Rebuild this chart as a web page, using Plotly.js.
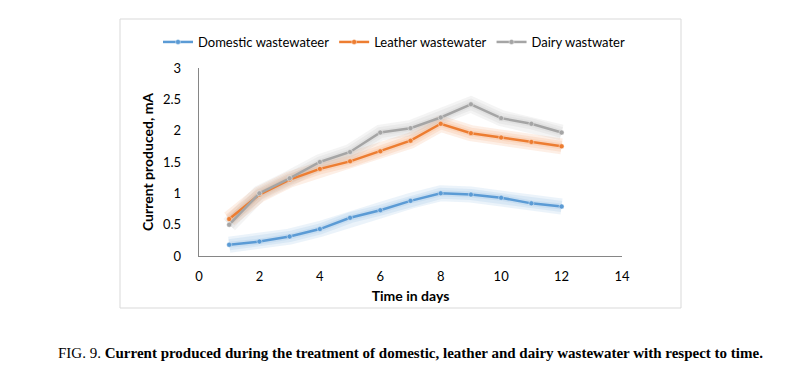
<!DOCTYPE html>
<html>
<head>
<meta charset="utf-8">
<script src="https://cdn.plot.ly/plotly-3.0.1.min.js"></script>
<style>html,body{margin:0;padding:0;background:#fff;}#chart{width:794px;height:376px;}</style>
</head>
<body>
<div id="chart"></div>
<script>
const days = [1,2,3,4,5,6,7,8,9,10,11,12];
const domestic = [0.18,0.23,0.31,0.43,0.61,0.73,0.88,1.00,0.98,0.93,0.84,0.79];
const leather = [0.59,0.98,1.22,1.39,1.51,1.67,1.84,2.11,1.96,1.89,1.82,1.75];
const dairy = [0.50,1.00,1.24,1.50,1.66,1.97,2.04,2.21,2.42,2.20,2.11,1.97];
const seriesNames = ['Domestic wastewateer','Leather wastewater','Dairy wastwater'];
const seriesColors = ['#5B9BD5','#ED7D31','#A5A5A5'];
const glowColors = ['rgba(91,155,213,0.12)','rgba(237,125,49,0.12)','rgba(165,165,165,0.12)'];
const xTicks = [0,2,4,6,8,10,12,14];
const yTicks = [0,0.5,1,1.5,2,2.5,3];
const yTickText = ['0','0.5','1','1.5','2','2.5','3'];

const allSeries = [domestic, leather, dairy];
const traces = [];
allSeries.forEach((ys, i) => {
  [16, 11, 6].forEach(w => {
    traces.push({x: days, y: ys, type: 'scatter', mode: 'lines',
      line: {color: glowColors[i], width: w, shape: 'linear'},
      hoverinfo: 'skip', showlegend: false});
  });
});
allSeries.forEach((ys, i) => {
  traces.push({x: days, y: ys, type: 'scatter', mode: 'lines+markers', name: seriesNames[i],
    line: {color: seriesColors[i], width: 2.5},
    marker: {color: seriesColors[i], size: 5, line: {color: 'rgba(255,255,255,0.4)', width: 1}}});
});

const L = 199, R = 622, T = 68, B = 256;
const pw = R - L, ph = B - T;
const px = v => (v - L) / pw;
const py = v => (B - v) / ph;

const layout = {
  width: 794, height: 376,
  margin: {l: L, r: 794 - R, t: T, b: 376 - B, pad: 0},
  paper_bgcolor: '#fff', plot_bgcolor: '#fff',
  font: {family: 'Lato, "Open Sans", sans-serif', size: 13, color: '#000'},
  showlegend: true,
  legend: {orientation: 'h', x: px(158), y: py(42), xanchor: 'left', yanchor: 'middle',
    font: {family: 'Lato, sans-serif', size: 13, color: '#000'}, traceorder: 'normal',
    itemwidth: 30, bgcolor: 'rgba(0,0,0,0)'},
  xaxis: {range: [0, 14], tickvals: xTicks, ticktext: xTicks.map(String), showgrid: false, zeroline: false,
    showline: true, linecolor: '#868686', linewidth: 1.3, ticks: 'outside', ticklen: 8, tickcolor: 'rgba(0,0,0,0)',
    tickfont: {size: 13, color: '#000'},
    title: {text: '<b>Time in days</b>', font: {size: 14, color: '#000'}, standoff: 8}},
  yaxis: {range: [0, 3], tickvals: yTicks, ticktext: yTickText, showgrid: false, zeroline: false,
    showline: true, linecolor: '#868686', linewidth: 1.3, ticks: 'outside', ticklen: 14, tickcolor: 'rgba(0,0,0,0)',
    tickfont: {size: 13, color: '#000'},
    title: {text: '<b>Current produced, mA</b>', font: {size: 14, color: '#000'}, standoff: 6}},
  shapes: [{type: 'rect', xref: 'paper', yref: 'paper', x0: px(120), x1: px(681), y0: py(308), y1: py(19),
    line: {color: '#D9D9D9', width: 1}, fillcolor: 'rgba(0,0,0,0)', layer: 'below'}],
  annotations: [{xref: 'paper', yref: 'paper', x: px(410), y: py(353), xanchor: 'center', yanchor: 'middle',
    showarrow: false, text: 'FIG. 9. <b>Current produced during the treatment of domestic, leather and dairy wastewater with respect to time.</b>',
    font: {family: '"Liberation Serif", "Times New Roman", serif', size: 15, color: '#000'}}]
};

Plotly.newPlot('chart', traces, layout, {displayModeBar: false, staticPlot: true});
</script>
</body>
</html>
